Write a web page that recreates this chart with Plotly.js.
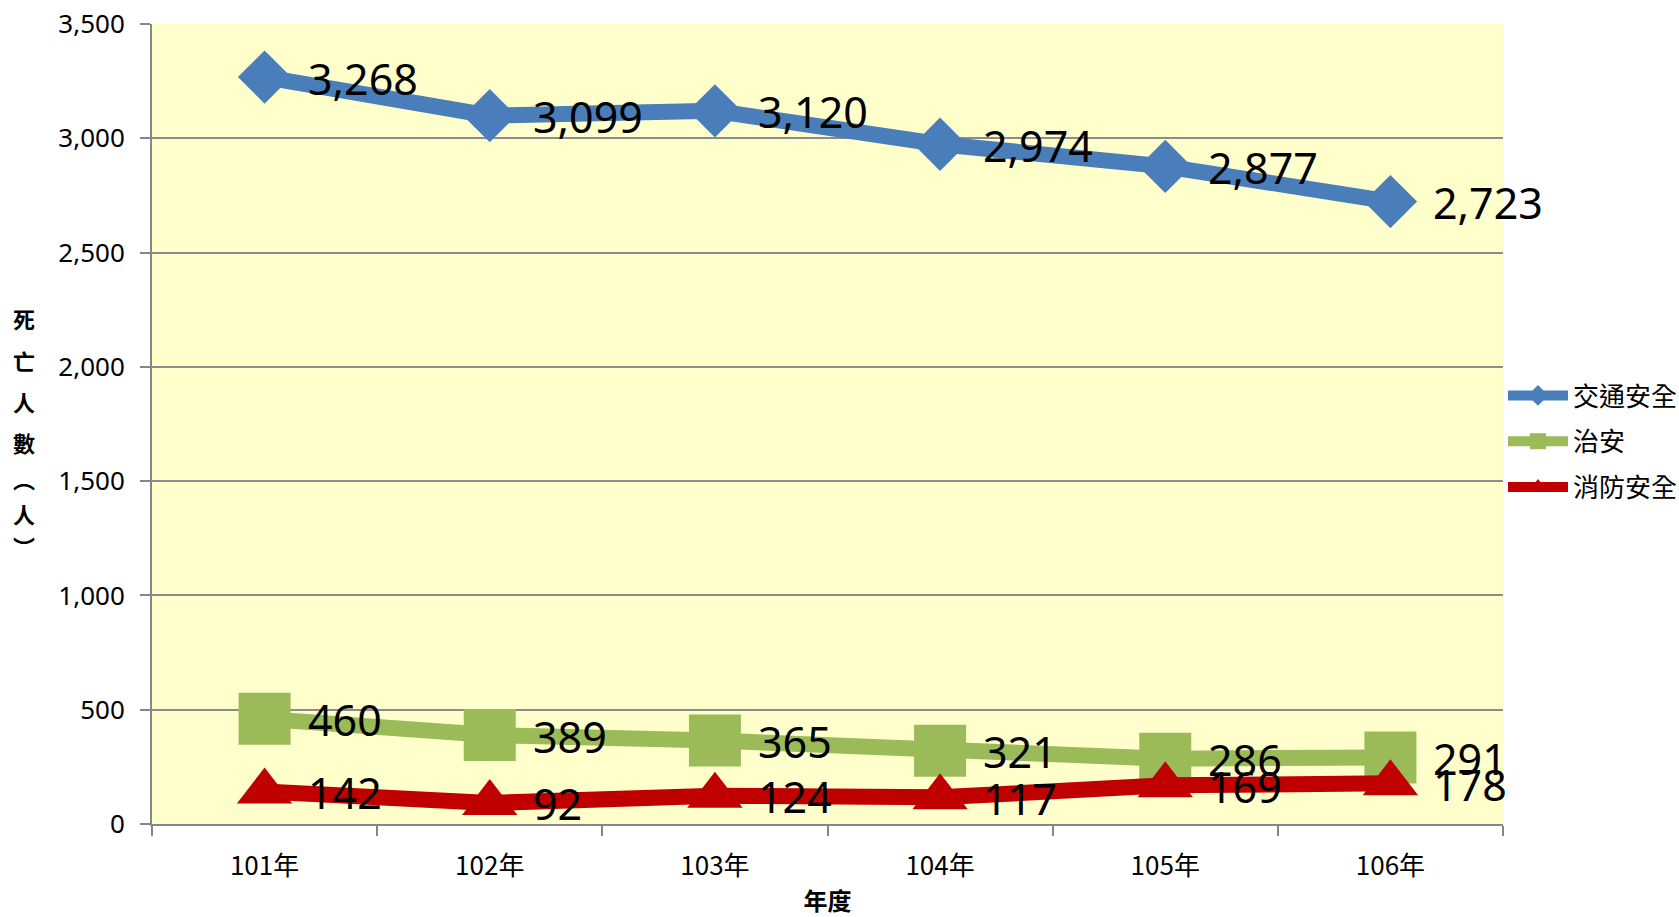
<!DOCTYPE html>
<html>
<head>
<meta charset="utf-8">
<script src="https://cdn.plot.ly/plotly-3.0.1.min.js"></script>
<style>html,body{margin:0;padding:0;background:#fff;}</style>
</head>
<body>
<div id="chart" style="width:1679px;height:917px;"></div>
<script>
const years = ['101年', '102年', '103年', '104年', '105年', '106年'];
const traffic = [3268, 3099, 3120, 2974, 2877, 2723];
const publicSafety = [460, 389, 365, 321, 286, 291];
const fireSafety = [142, 92, 124, 117, 169, 178];
const seriesNames = ['交通安全', '治安', '消防安全'];
const yTitleChars = ['死', '亡', '人', '數', '︵', '人', '︶'];
const xTitle = '年度';

const CJK = '"Noto Sans CJK TC", "Noto Sans", sans-serif';
const NUM = '"Noto Sans", "Noto Sans CJK TC", sans-serif';

function series(name, y, color, symbol, size, group) {
  return {
    type: 'scatter', mode: 'lines+markers', name: name, x: years, y: y,
    legendgroup: group,
    line: {color: color, width: 16},
    marker: {color: color, symbol: symbol, size: size},
    hoverinfo: 'x+y+name', cliponaxis: false
  };
}

const data = [
  series(seriesNames[0], traffic, '#4A7EBB', 'diamond', 41, 'a'),
  series(seriesNames[1], publicSafety, '#9BBB59', 'square', 52, 'b'),
  series(seriesNames[2], fireSafety, '#C00000', 'triangle-up', 48, 'c')
];

// vertical y-axis title, one character per line
const charY = [318, 360, 401, 442, 478, 513, 546];
const annotations = yTitleChars.map((c, i) => ({
  text: c, xref: 'paper', yref: 'paper',
  x: (23.5 - 152) / 1351, y: (824 - charY[i]) / 800,
  xanchor: 'center', yanchor: 'middle', showarrow: false,
  font: {family: CJK, size: 22, color: '#000', weight: 'bold'}
}));

// data labels, to the right of each marker
[traffic, publicSafety, fireSafety].forEach(arr => {
  arr.forEach((v, i) => {
    annotations.push({
      x: years[i], y: v, xref: 'x', yref: 'y',
      text: v.toLocaleString('en-US'), showarrow: false,
      xanchor: 'left', yanchor: 'middle', xshift: 41, yshift: -1,
      font: {family: NUM, size: 43, color: '#000'}
    });
  });
});

const layout = {
  width: 1679, height: 917,
  margin: {l: 152, r: 176, t: 24, b: 93, pad: 0, autoexpand: false},
  paper_bgcolor: '#ffffff', plot_bgcolor: '#FFFFCC',
  showlegend: true,
  legend: {
    x: 1.0, xanchor: 'left', y: 0.565, yanchor: 'top',
    font: {family: CJK, size: 26, color: '#000'},
    itemwidth: 60, tracegroupgap: 9, traceorder: 'grouped',
    bgcolor: 'rgba(0,0,0,0)', borderwidth: 0
  },
  xaxis: {
    type: 'category', categoryorder: 'array', categoryarray: years,
    range: [-0.5, years.length - 0.5], autorange: false,
    tickson: 'boundaries', ticks: 'outside', ticklen: 10, tickwidth: 2, tickcolor: '#868686',
    showline: true, linecolor: '#868686', linewidth: 2, showgrid: false, zeroline: false,
    tickfont: {family: CJK, size: 26, color: '#000'},
    ticklabelstandoff: 18,
    title: {text: xTitle, font: {family: CJK, size: 24, color: '#000', weight: 'bold'}, standoff: 24}
  },
  yaxis: {
    range: [0, 3500], autorange: false, dtick: 500, tickformat: ',d',
    ticks: 'outside', ticklen: 10, tickwidth: 2, tickcolor: '#868686',
    showline: true, linecolor: '#868686', linewidth: 2,
    showgrid: true, gridcolor: '#8C8C8C', gridwidth: 2, zeroline: false,
    tickfont: {family: NUM, size: 26, color: '#000'},
    ticklabelstandoff: 10
  },
  annotations: annotations
};

Plotly.newPlot('chart', data, layout, {displayModeBar: false, responsive: false});
</script>
</body>
</html>
